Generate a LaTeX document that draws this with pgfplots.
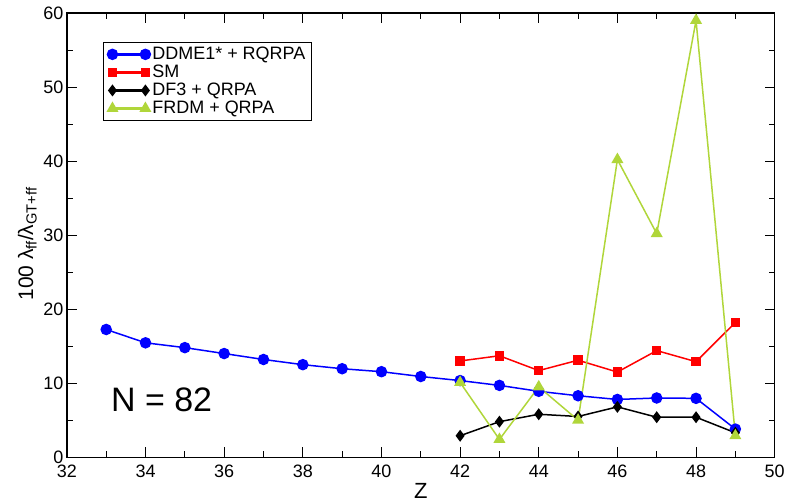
\documentclass[border=0pt]{standalone}
\usepackage{pgfplots}
\pgfplotsset{compat=1.18}
\usepackage{fontspec}
\setmainfont{Liberation Sans}
\definecolor{frdm}{RGB}{176,214,58}
\begin{document}
\begin{tikzpicture}
\begin{axis}[
  scale only axis,
  width=709pt, height=445pt,
  xmin=32, xmax=50, ymin=0, ymax=60,
  xtick={32,34,...,50}, ytick={0,10,...,60},
  minor x tick num=1, minor y tick num=1,
  major tick length=10pt, minor tick length=6pt,
  tick style={black, line width=0.9pt},
  axis line style={line width=1.4pt},
  /pgf/number format/assume math mode=true,
  ticklabel style={font=\fontsize{18}{20}\selectfont},
  xticklabel style={yshift=-4pt},
  xlabel={Z}, ylabel={100 λ\textsubscript{ff}/λ\textsubscript{GT+ff}},
  xlabel style={font=\fontsize{22}{24}\selectfont, at={(axis description cs:0.5,0)}, anchor=north, yshift=-23pt},
  ylabel style={font=\fontsize{21}{23}\selectfont, at={(axis description cs:-0.056,0.48)}, anchor=center},
  legend style={at={(0.051,0.935)}, anchor=north west, draw=black, line width=1pt,
    font=\fontsize{18}{20}\selectfont, inner xsep=4pt, inner ysep=3pt, row sep=0pt,
    /tikz/every even column/.append style={column sep=3pt}},
  legend cell align=left,
  legend image code/.code={
    \draw[#1, mark=none, line width=2.5pt] (0pt,0pt) -- (33pt,0pt);
    \draw[#1, only marks] plot coordinates {(0pt,0pt) (33pt,0pt)};},
]
\addplot[blue, line width=1.5pt, mark=*, mark size=5pt] coordinates {
(33,17.25) (34,15.45) (35,14.8) (36,14.0) (37,13.2) (38,12.5) (39,11.95) (40,11.55) (41,10.9) (42,10.35) (43,9.7) (44,8.9) (45,8.3) (46,7.8) (47,8.0) (48,7.95) (49,3.8)};
\addlegendentry{DDME1* + RQRPA}
\addplot[red, line width=1.5pt, mark=square*, mark size=4pt] coordinates {
(42,13.0) (43,13.7) (44,11.7) (45,13.1) (46,11.5) (47,14.4) (48,12.9) (49,18.2)};
\addlegendentry{SM}
\addplot[black, line width=1.5pt, mark=diamond*, mark size=4.8pt] coordinates {
(42,2.9) (43,4.8) (44,5.8) (45,5.5) (46,6.8) (47,5.4) (48,5.4) (49,3.3)};
\addlegendentry{DF3 + QRPA}
\addplot[frdm, line width=1.5pt, mark=triangle*, mark size=5.5pt] coordinates {
(42,10.1) (43,2.4) (44,9.5) (45,5.0) (46,40.2) (47,30.2) (48,59.0) (49,2.9)};
\addlegendentry{FRDM + QRPA}
\node[font=\fontsize{34}{36}\selectfont, anchor=center] at (axis cs:34.41,7.75) {N = 82};
\end{axis}
\path (current axis.south west) ++(-67pt,-45pt);
\path (current axis.north east) ++(12pt,13pt);
\end{tikzpicture}
\end{document}
